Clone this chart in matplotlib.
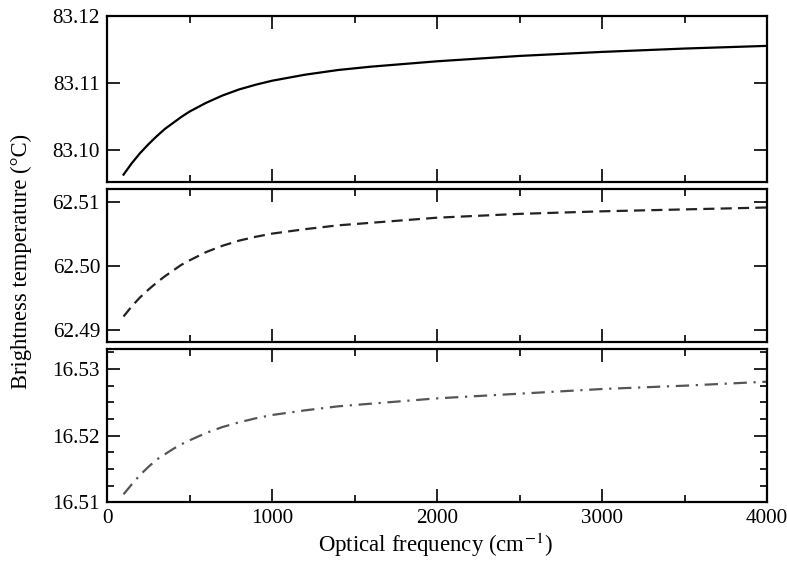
import numpy as np
import matplotlib
matplotlib.use("Agg")
import matplotlib.pyplot as plt
from matplotlib.ticker import MultipleLocator, NullLocator

plt.rcParams['font.family'] = ['Liberation Serif', 'DejaVu Serif']
plt.rcParams['mathtext.fontset'] = 'stix'

# values (cm^-1, degrees C)
freq = [100, 150, 200, 250, 300, 350, 400, 450, 500, 600, 700, 800, 900, 1000,
        1200, 1400, 1600, 1800, 2000, 2500, 3000, 3500, 4000]
temp_top = [83.0963, 83.0980, 83.0995, 83.1008, 83.1020, 83.1031, 83.1040, 83.1049,
            83.1057, 83.1070, 83.1081, 83.1090, 83.1097, 83.1103, 83.1112, 83.1119,
            83.1124, 83.1128, 83.1132, 83.1140, 83.1146, 83.1151, 83.1155]
temp_mid = [62.4921, 62.4937, 62.4951, 62.4963, 62.4974, 62.4984, 62.4993, 62.5002,
            62.5009, 62.5022, 62.5032, 62.5040, 62.5046, 62.5051, 62.5058, 62.5064,
            62.5068, 62.5072, 62.5076, 62.5082, 62.5086, 62.5089, 62.5092]
temp_bot = [16.5112, 16.5127, 16.5141, 16.5153, 16.5164, 16.5172, 16.5180, 16.5187,
            16.5193, 16.5204, 16.5213, 16.5220, 16.5226, 16.5231, 16.5238, 16.5244,
            16.5248, 16.5252, 16.5256, 16.5263, 16.5270, 16.5275, 16.5281]

fig = plt.figure(figsize=(7.87, 5.75), dpi=100)
left, width = 0.136, 0.8386
ax1 = fig.add_axes([left, 0.6835, width, 0.2892])
ax2 = fig.add_axes([left, 0.4052, width, 0.2661])
ax3 = fig.add_axes([left, 0.1264, width, 0.2666])

ax1.plot(freq, temp_top, color='black', lw=1.6)
ax2.plot(freq, temp_mid, color='#222222', lw=1.6, dashes=(5, 2.8))
ax3.plot(freq, temp_bot, color='#555555', lw=1.6, dashes=(6, 3, 1, 3))

ax1.set_ylim(83.0952, 83.12)
ax2.set_ylim(62.4881, 62.5121)
ax3.set_ylim(16.51, 16.533)

for ax in (ax1, ax2, ax3):
    ax.yaxis.set_major_locator(MultipleLocator(0.01))
    ax.yaxis.set_major_formatter(plt.FormatStrFormatter('%.2f'))
ax1.yaxis.set_minor_locator(NullLocator())
ax2.yaxis.set_minor_locator(NullLocator())
ax3.yaxis.set_minor_locator(MultipleLocator(0.0025))

for ax in (ax1, ax2, ax3):
    ax.set_xlim(0, 4000)
    ax.xaxis.set_major_locator(MultipleLocator(1000))
    ax.xaxis.set_minor_locator(MultipleLocator(500))
    ax.tick_params(which='both', direction='in', top=True, right=True, width=1.2,
                   labelsize=15.2, pad=5)
    ax.tick_params(which='major', length=9.5)
    ax.tick_params(which='minor', length=5)
    for s in ax.spines.values():
        s.set_linewidth(1.6)

ax1.tick_params(labelbottom=False)
ax2.tick_params(labelbottom=False)

fig.text(0.553, 0.052, 'Optical frequency (cm$^{-1}$)', ha='center', va='center', fontsize=16.5)
fig.text(0.027, 0.545, 'Brightness temperature (°C)', ha='center', va='center',
         rotation=90, fontsize=16.3)

fig.savefig('out.png', dpi=100)
